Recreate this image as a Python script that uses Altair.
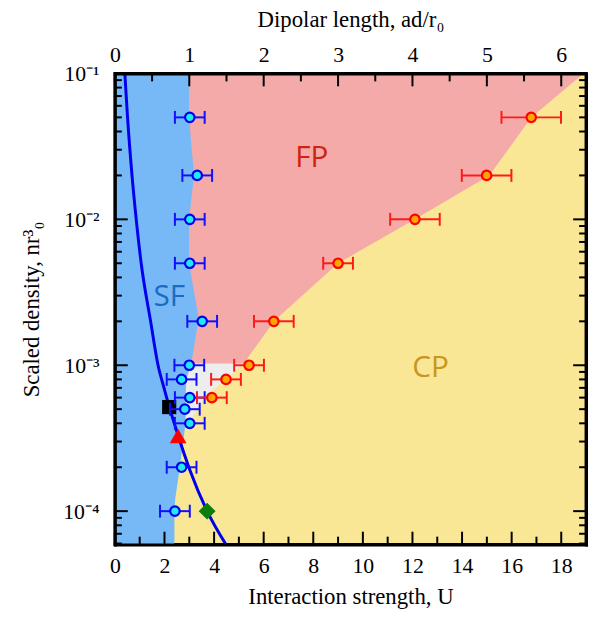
import altair as alt
import pandas as pd

# ---------------- data ----------------
# SF / (FP, CP) boundary  (U, n r0^3)
sf_n = [0.1, 0.05, 0.02, 0.01, 0.005, 0.0021, 0.00103, 8e-4, 6e-4, 4e-4, 1.9e-4, 1.2e-4, 1e-4, 5.9e-5]
sf_u = [2.99, 2.99, 3.19, 2.99, 2.99, 3.38, 3.08, 2.88, 2.85, 2.85, 2.6, 2.43, 2.4, 2.4]

# FP / CP boundary (upper part)
fp_n = [0.00103, 0.002, 0.005, 0.01, 0.02, 0.05, 0.1]
fp_u = [5.2, 6.41, 9.0, 12.1, 15.1, 16.8, 18.9]

# grey (intermediate) region right edge
gr_n = [3.8e-4, 6e-4, 0.00103]
gr_u = [2.9, 3.6, 5.2]

# blue theory curve
cv_n = [0.1, 0.05, 0.02, 0.01, 0.005, 0.002, 0.001, 7e-4, 5.2e-4, 3.3e-4, 1.9e-4, 1e-4, 5.9e-5]
cv_u = [0.40, 0.51, 0.69, 0.86, 1.06, 1.44, 1.74, 1.98, 2.19, 2.55, 3.03, 3.72, 4.48]

# SF-boundary data points with error bars
bp_n = [0.05, 0.02, 0.01, 0.005, 0.002, 0.001, 8e-4, 6e-4, 5e-4, 4e-4, 2e-4, 1e-4]
bp_u = [3.02, 3.32, 3.02, 3.02, 3.52, 3.0, 2.69, 3.02, 2.82, 3.02, 2.69, 2.42]
bp_e = [0.6, 0.6, 0.6, 0.6, 0.6, 0.6, 0.6, 0.6, 0.6, 0.6, 0.6, 0.6]

# FP/CP-boundary data points with error bars
rp_n = [0.05, 0.02, 0.01, 0.005, 0.002, 0.001, 8e-4, 6e-4]
rp_u = [16.79, 14.99, 12.10, 9.0, 6.41, 5.41, 4.48, 3.91]
rp_e = [1.2, 1.0, 1.0, 0.6, 0.8, 0.6, 0.6, 0.6]

# special markers
sq_u, sq_n = [2.19], [5.17e-4]
tr_u, tr_n = [2.55], [3.27e-4]
dm_u, dm_n = [3.72], [1e-4]

# region labels
lab_text = ["SF", "FP", "CP"]
lab_u = [2.19, 7.94, 12.73]
lab_n = [2.94e-3, 0.0262, 9.5e-4]

# ticks
u_major = [0, 2, 4, 6, 8, 10, 12, 14, 16, 18]
u_minor = [1, 3, 5, 7, 9, 11, 13, 15, 17]
ad_major = [0, 1, 2, 3, 4, 5, 6]
ad_minor = [0.5, 1.5, 2.5, 3.5, 4.5, 5.5]
y_major = [1e-4, 1e-3, 1e-2, 1e-1]
y_minor = [6e-5, 7e-5, 8e-5, 9e-5,
           2e-4, 3e-4, 4e-4, 5e-4, 6e-4, 7e-4, 8e-4, 9e-4,
           2e-3, 3e-3, 4e-3, 5e-3, 6e-3, 7e-3, 8e-3, 9e-3,
           2e-2, 3e-2, 4e-2, 5e-2, 6e-2, 7e-2, 8e-2, 9e-2]

# ---------------- styling ----------------
W, H = 476, 476
SF_C, FP_C, CP_C, GR_C = "#77b8f6", "#f4aaa9", "#f9e795", "#ededed"
serif = "Liberation Serif"
xs = alt.Scale(domain=[0, 19], nice=False, zero=False)
ys = alt.Scale(type="log", domain=[5.9e-5, 0.1], nice=False)


def ax(orient, **kw):
    d = dict(orient=orient, domain=True, domainColor="black", domainWidth=3,
             domainCap="square", ticks=False, tickSize=0, grid=False, zindex=1,
             labelFont=serif, labelFontSize=22, labelColor="black",
             labelFlush=False, labelOverlap=False,
             titleFont=serif, titleFontSize=23, titleFontWeight="normal",
             titleColor="black")
    d.update(kw)
    return alt.Axis(**d)


ylabel = ("datum.value < 0.0005 ? '10⁻⁴' : datum.value < 0.005 ? '10⁻³' : "
          "datum.value < 0.05 ? '10⁻²' : '10⁻¹'")

bottom_ax = ax("bottom", values=u_major, format="d", labelPadding=11,
               title="Interaction strength, U", titlePadding=10)
top_ax = ax("top", values=[a * 3 for a in ad_major],
            labelExpr="format(datum.value / 3, 'd')", labelPadding=7,
            title="Dipolar length, ad/r₀", titlePadding=12)
left_ax = ax("left", values=y_major, labelExpr=ylabel, labelPadding=16,
             title="Scaled density, nr³₀", titlePadding=20)
right_ax = ax("right", values=y_major, labels=False, title=None)


def area(u, n, color, xaxis=None, yaxis=None):
    df = pd.DataFrame({"n": n, "u": u})
    return (alt.Chart(df).transform_calculate(u0="0")
            .mark_area(orient="horizontal", color=color, clip=True)
            .encode(y=alt.Y("n:Q", scale=ys, axis=yaxis),
                    x=alt.X("u0:Q", scale=xs, axis=xaxis, stack=False),
                    x2="u:Q"))


gray = area(gr_u, gr_n, GR_C, xaxis=bottom_ax, yaxis=left_ax)
pink = area(fp_u, fp_n, FP_C, xaxis=top_ax, yaxis=right_ax)
blue = area(sf_u, sf_n, SF_C)

curve = (alt.Chart(pd.DataFrame({"u": cv_u, "n": cv_n, "i": list(range(len(cv_u)))}))
         .mark_line(color="#0000ee", strokeWidth=3, clip=True, interpolate="monotone")
         .encode(x=alt.X("u:Q", scale=xs, axis=None),
                 y=alt.Y("n:Q", scale=ys, axis=None), order="i:Q"))


def marker(u, n, shape, color, size):
    return (alt.Chart(pd.DataFrame({"u": u, "n": n}))
            .mark_point(shape=shape, filled=True, color=color, size=size, opacity=1)
            .encode(x=alt.X("u:Q", scale=xs, axis=None),
                    y=alt.Y("n:Q", scale=ys, axis=None)))


square = marker(sq_u, sq_n, "square", "black", 205)
tri = marker(tr_u, tr_n, "triangle-up", "#ff0000", 285)
dia = marker(dm_u, dm_n, "diamond", "#0b7d0b", 290)


def errpoints(u, n, e, line_c, fill_c, stroke_c):
    base = (alt.Chart(pd.DataFrame({"u": u, "n": n, "e": e}))
            .transform_calculate(lo="datum.u - datum.e", hi="datum.u + datum.e"))
    y = alt.Y("n:Q", scale=ys, axis=None)
    bar = base.mark_rule(color=line_c, strokeWidth=2).encode(
        x=alt.X("lo:Q", scale=xs, axis=None), x2="hi:Q", y=y)
    cl = base.mark_tick(orient="vertical", color=line_c, size=13, thickness=2, opacity=1).encode(
        x=alt.X("lo:Q", scale=xs, axis=None), y=y)
    ch = base.mark_tick(orient="vertical", color=line_c, size=13, thickness=2, opacity=1).encode(
        x=alt.X("hi:Q", scale=xs, axis=None), y=y)
    pt = base.mark_circle(size=92, fill=fill_c, stroke=stroke_c, strokeWidth=2.2, opacity=1).encode(
        x=alt.X("u:Q", scale=xs, axis=None), y=y)
    return [bar, cl, ch, pt]


blue_pts = errpoints(bp_u, bp_n, bp_e, "#1010ff", "#22e8f2", "#0000f0")
red_pts = errpoints(rp_u, rp_n, rp_e, "#ff1a1a", "#ffa500", "#ff0000")

labels = (alt.Chart(pd.DataFrame({"t": lab_text, "u": lab_u, "n": lab_n}))
          .mark_text(font="Open Sans", fontSize=30, align="center", baseline="middle")
          .encode(x=alt.X("u:Q", scale=xs, axis=None),
                  y=alt.Y("n:Q", scale=ys, axis=None),
                  text="t:N",
                  color=alt.Color("t:N", scale=alt.Scale(domain=lab_text,
                                  range=["#1b6cc0", "#cc2410", "#c8961c"]), legend=None)))


def yticks(vals, length, side):
    x0 = 0 if side == "left" else W
    x1 = length if side == "left" else W - length
    return (alt.Chart(pd.DataFrame({"n": vals})).mark_rule(color="black", strokeWidth=2)
            .encode(y=alt.Y("n:Q", scale=ys, axis=None), x=alt.value(x0), x2=alt.value(x1)))


def xticks(vals, length, side):
    y0 = H if side == "bottom" else 0
    y1 = H - length if side == "bottom" else length
    return (alt.Chart(pd.DataFrame({"u": vals})).mark_rule(color="black", strokeWidth=2)
            .encode(x=alt.X("u:Q", scale=xs, axis=None), y=alt.value(y0), y2=alt.value(y1)))


ticks = [yticks(y_major, 13, "left"), yticks(y_minor, 7, "left"),
         yticks(y_major, 13, "right"), yticks(y_minor, 7, "right"),
         xticks(u_major, 13, "bottom"), xticks(u_minor, 8, "bottom"),
         xticks([a * 3 for a in ad_major], 13, "top"), xticks([a * 3 for a in ad_minor], 8, "top")]

chart = (alt.layer(gray, pink, blue, curve, square, tri, dia,
                   *blue_pts, *red_pts, labels, *ticks)
         .resolve_axis(x="independent", y="independent")
         .properties(width=W, height=H, autosize="none",
                     padding={"left": 108, "top": 63, "right": 4, "bottom": 66})
         .configure_view(stroke="black", strokeWidth=3, fill=CP_C))

chart.save("out.html", embed_options={"renderer": "svg", "actions": False})
